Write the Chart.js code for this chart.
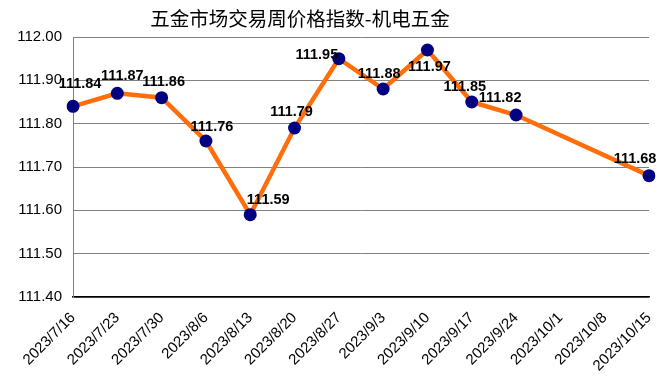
<!DOCTYPE html>
<html>
<head>
<meta charset="utf-8">
<script src="https://cdn.jsdelivr.net/npm/chart.js@4/dist/chart.umd.min.js"></script>
<style>
html,body{margin:0;padding:0;background:#fff;}
#wrap{width:661px;height:383px;position:relative;}
</style>
</head>
<body>
<div id="wrap"><canvas id="c" width="661" height="383"></canvas></div>
<script>
const chartTitle = '五金市场交易周价格指数-机电五金';
const categories = ['2023/7/16','2023/7/23','2023/7/30','2023/8/6','2023/8/13','2023/8/20','2023/8/27','2023/9/3','2023/9/10','2023/9/17','2023/9/24','2023/10/1','2023/10/8','2023/10/15'];
const indexValues = [111.84,111.87,111.86,111.76,111.59,111.79,111.95,111.88,111.97,111.85,111.82,null,null,111.68];
const yTicks = [111.40,111.50,111.60,111.70,111.80,111.90,112.00];

const labelOffsets = [[7,-22],[5,-17],[2,-16],[6,-14],[18,-15],[-3,-16],[-22,-4],[-4,-15],[2,17],[-7,-15],[-16,-17],null,null,[-14,-17]];

const titlePlugin = {
  id:'customTitle',
  afterDraw(chart){
    const ctx = chart.ctx;
    ctx.save();
    ctx.font = '19.5px "Noto Sans CJK SC"';
    ctx.fillStyle = '#000';
    ctx.textAlign = 'center';
    ctx.textBaseline = 'middle';
    ctx.fillText(chartTitle, 300, 19);
    ctx.restore();
  }
};
const labelPlugin = {
  id:'valueLabels',
  afterDatasetsDraw(chart){
    const ctx = chart.ctx;
    const meta = chart.getDatasetMeta(0);
    ctx.save();
    ctx.font = 'bold 14.5px "Liberation Sans", Arial';
    ctx.fillStyle = '#000';
    ctx.textAlign = 'center';
    ctx.textBaseline = 'middle';
    indexValues.forEach((v,i)=>{
      if(v===null) return;
      const p = meta.data[i];
      const o = labelOffsets[i] || [0,-15];
      ctx.fillText(v.toFixed(2), p.x+o[0], p.y+o[1]);
    });
    ctx.restore();
  }
};

new Chart(document.getElementById('c'),{
  type:'line',
  data:{
    labels:categories,
    datasets:[{
      data:indexValues,
      borderColor:'#FF6E0A',
      borderWidth:4.5,
      pointBackgroundColor:'#000080',
      pointBorderColor:'#000080',
      pointRadius:6.5,
      pointBorderWidth:0,
      spanGaps:true,
      tension:0
    }]
  },
  options:{
    responsive:false,
    animation:false,
    devicePixelRatio:1,
    layout:{padding:{top:37,right:12,left:0,bottom:0}},
    plugins:{legend:{display:false},tooltip:{enabled:false},title:{display:false}},
    scales:{
      x:{
        offset:false,
        grid:{display:false,drawTicks:false},
        border:{color:'#000',width:1.5},
        ticks:{
          minRotation:45,maxRotation:45,
          autoSkip:false,
          padding:12,
          color:'#000',
          font:{family:'"Liberation Sans", Arial',size:15}
        },
        afterFit(s){s.height=86;s.paddingRight=0;}
      },
      y:{
        min:111.4,max:112.0,
        afterBuildTicks(s){s.ticks = yTicks.map(v=>({value:v}));},
        grid:{color:'#808080',drawTicks:false,lineWidth:1},
        border:{color:'#808080',width:1},
        ticks:{
          padding:11,
          color:'#000',
          font:{family:'"Liberation Sans", Arial',size:15},
          callback:v=>Number(v).toFixed(2)
        },
        afterFit(s){s.width=73;}
      }
    }
  },
  plugins:[titlePlugin,labelPlugin]
});
</script>
</body>
</html>
